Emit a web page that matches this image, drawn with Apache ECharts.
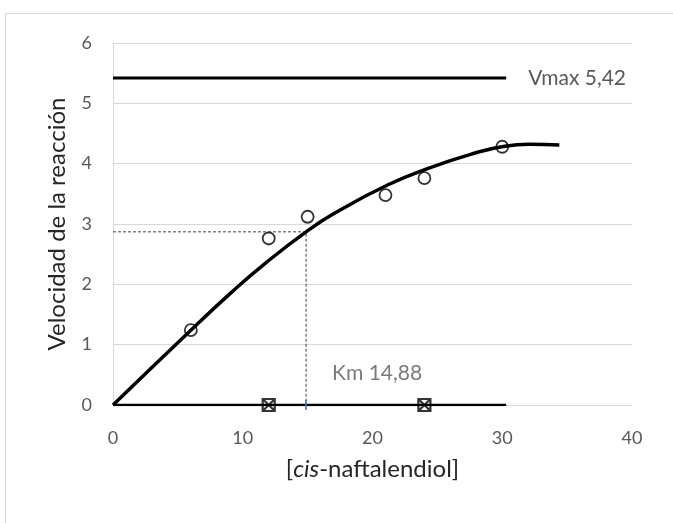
<!DOCTYPE html>
<html>
<head>
<meta charset="utf-8">
<script src="https://cdn.jsdelivr.net/npm/echarts@6/dist/echarts.min.js"></script>
<style>
  html, body { margin: 0; padding: 0; background: #fff; }
  #main { width: 673px; height: 523px; }
</style>
</head>
<body>
<div id="main"></div>
<script>
// puntos medidos
const sustrato = [6, 12, 15, 21, 24, 30];
const velocidad = [1.24, 2.76, 3.12, 3.48, 3.76, 4.28];

// curva de tendencia
const curvaX = [0, 6, 9.3, 11.8, 14.88, 17, 21.2, 24.4, 27.5, 30.2, 32.1, 34.4];
const curvaY = [0, 1.24, 1.90, 2.36, 2.87, 3.17, 3.65, 3.93, 4.15, 4.29, 4.32, 4.31];

// puntos tachados sobre el eje
const tachadosX = [12, 24];

const vmax = 5.42;
const km = 14.88;
const mitadVmax = 2.87;
const finLineas = 30.3;

const txt = '#595959';
const titulo = '#262626';
const fuente = 'Lato';

let chart = echarts.init(document.getElementById('main'));

const option = {
  animation: false,
  textStyle: { fontFamily: fuente },
  graphic: [
    {
      type: 'rect',
      shape: { x: 5.5, y: 13.5, width: 700, height: 600 },
      style: { fill: 'none', stroke: '#d9d9d9', lineWidth: 1 },
      z: -1
    }
  ],
  grid: { left: 113, right: 41, top: 43, bottom: 118 },
  xAxis: {
    type: 'value',
    min: 0, max: 40, interval: 10,
    name: '{n|[}{i|cis}{n|-naftalendiol]}',
    nameLocation: 'middle',
    nameGap: 52,
    nameTextStyle: {
      rich: {
        n: { fontSize: 24, color: titulo, fontFamily: fuente },
        i: { fontSize: 24, color: titulo, fontFamily: fuente, fontStyle: 'italic' }
      }
    },
    axisLine: { show: false },
    axisTick: { show: false },
    splitLine: { show: false },
    axisLabel: { color: txt, fontSize: 18, margin: 24 }
  },
  yAxis: {
    type: 'value',
    min: 0, max: 6, interval: 1,
    name: 'Velocidad de la reacción',
    nameLocation: 'middle',
    nameGap: 44,
    nameTextStyle: { fontSize: 24, color: titulo },
    axisLine: { show: true, lineStyle: { color: '#d9d9d9', width: 1 } },
    axisTick: { show: false },
    splitLine: { lineStyle: { color: '#d9d9d9', width: 1 } },
    axisLabel: { color: txt, fontSize: 18, margin: 21 }
  },
  series: [
    {
      name: 'Vmax',
      type: 'line',
      data: [[0, vmax], [finLineas, vmax]],
      showSymbol: false,
      lineStyle: { color: '#000', width: 3 },
      endLabel: {
        show: true,
        formatter: 'Vmax 5,42',
        color: txt,
        fontSize: 21,
        distance: 22
      }
    },
    {
      name: 'base',
      type: 'line',
      data: [[0, 0], [finLineas, 0]],
      showSymbol: false,
      lineStyle: { color: '#000', width: 2.5 }
    },
    {
      name: 'Km',
      type: 'line',
      data: [[0, mitadVmax], [km, mitadVmax], [km, 0]],
      showSymbol: false,
      lineStyle: { color: '#404040', width: 1, type: [3, 2] }
    },
    {
      name: 'curva',
      type: 'line',
      smooth: 0.5,
      data: curvaX.map((x, i) => [x, curvaY[i]]),
      showSymbol: false,
      lineStyle: { color: '#000', width: 3.5 },
      z: 3
    },
    {
      name: 'datos',
      type: 'scatter',
      data: sustrato.map((x, i) => [x, velocidad[i]]),
      symbol: 'circle',
      symbolSize: 12,
      itemStyle: { color: 'rgba(0,0,0,0)', borderColor: '#000', borderWidth: 1.8 },
      z: 4
    },
    {
      name: 'tachados',
      type: 'scatter',
      data: tachadosX.map(x => [x, 0]),
      symbol: 'path://M0,0L10,0L10,10L0,10Z M0,0L10,10 M10,0L0,10',
      symbolSize: 12,
      itemStyle: { color: 'rgba(0,0,0,0)', borderColor: '#000', borderWidth: 2.2 },
      z: 4
    },
    {
      name: 'marcaKm',
      type: 'scatter',
      data: [[km, 0]],
      symbol: 'rect',
      symbolSize: [2, 10],
      itemStyle: { color: '#4472c4' },
      label: {
        show: true,
        formatter: 'Km 14,88',
        position: [27, -37],
        color: txt,
        fontSize: 21
      },
      z: 5
    }
  ]
};

chart.setOption(option);
</script>
</body>
</html>
